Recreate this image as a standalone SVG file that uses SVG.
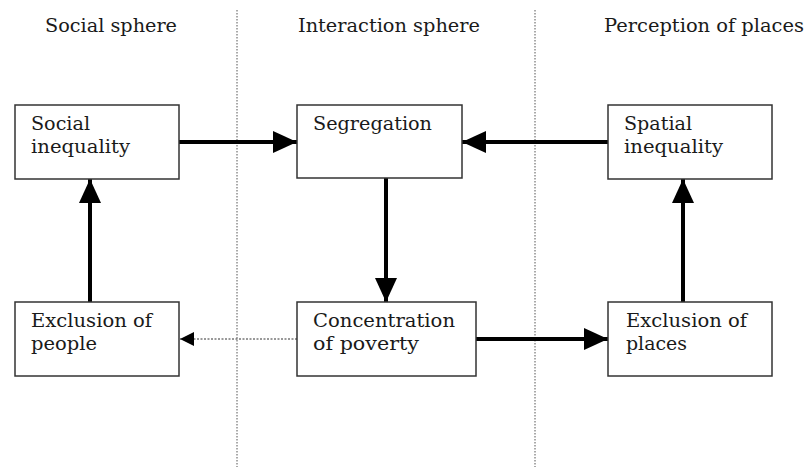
<svg xmlns="http://www.w3.org/2000/svg" width="806" height="467" viewBox="0 0 806 467">
<style>
.box{fill:#fff;stroke:#333;stroke-width:1.5}
.t{font-family:"DejaVu Serif","Liberation Serif",serif;font-size:19px;fill:#1a1a1a}
.h{font-family:"DejaVu Serif","Liberation Serif",serif;font-size:19px;fill:#1a1a1a;text-anchor:middle}
.sep{stroke:#555;stroke-width:1;stroke-dasharray:1.5 1.5}
.thick{stroke:#000;stroke-width:4;fill:none}
.thin{stroke:#333;stroke-width:1;stroke-dasharray:2 1.5;fill:none}
</style>
<defs>
<marker id="ah" markerUnits="userSpaceOnUse" markerWidth="24" markerHeight="22" refX="24" refY="11" orient="auto">
<path d="M0,0 L24,11 L0,22 Z" fill="#000"/>
</marker>
<marker id="ahs" markerUnits="userSpaceOnUse" markerWidth="14" markerHeight="14" refX="14" refY="7" orient="auto">
<path d="M0,0 L14,7 L0,14 Z" fill="#000"/>
</marker>
</defs>
<g id="separators">
<line class="sep" x1="237" y1="10" x2="237" y2="467"/>
<line class="sep" x1="535" y1="10" x2="535" y2="467"/>
</g>
<g id="headers">
<text class="h" x="111" y="32" textLength="132" lengthAdjust="spacingAndGlyphs">Social sphere</text>
<text class="h" x="389" y="32" textLength="182" lengthAdjust="spacingAndGlyphs">Interaction sphere</text>
<text class="h" x="704" y="32" textLength="200" lengthAdjust="spacingAndGlyphs">Perception of places</text>
</g>
<g id="connectors">
<line class="thick" x1="179" y1="142" x2="297" y2="142" marker-end="url(#ah)"/>
<line class="thick" x1="608" y1="142" x2="462" y2="142" marker-end="url(#ah)"/>
<line class="thick" x1="386" y1="178" x2="386" y2="302" marker-end="url(#ah)"/>
<line class="thick" x1="90" y1="302" x2="90" y2="179" marker-end="url(#ah)"/>
<line class="thick" x1="683" y1="302" x2="683" y2="179" marker-end="url(#ah)"/>
<line class="thick" x1="476" y1="339" x2="608" y2="339" marker-end="url(#ah)"/>
<line class="thin" x1="297" y1="339" x2="180" y2="339" marker-end="url(#ahs)"/>
</g>
<g id="social-inequality">
<rect class="box" x="15" y="105" width="164" height="74"/>
<text class="t" x="31" y="130" textLength="59" lengthAdjust="spacingAndGlyphs">Social</text>
<text class="t" x="31" y="153" textLength="99" lengthAdjust="spacingAndGlyphs">inequality</text>
</g>
<g id="segregation">
<rect class="box" x="297" y="105" width="165" height="73"/>
<text class="t" x="313" y="130" textLength="119" lengthAdjust="spacingAndGlyphs">Segregation</text>
</g>
<g id="spatial-inequality">
<rect class="box" x="608" y="105" width="164" height="74"/>
<text class="t" x="624" y="130" textLength="68" lengthAdjust="spacingAndGlyphs">Spatial</text>
<text class="t" x="624" y="153" textLength="99" lengthAdjust="spacingAndGlyphs">inequality</text>
</g>
<g id="exclusion-of-people">
<rect class="box" x="15" y="302" width="164" height="74"/>
<text class="t" x="31" y="327" textLength="121" lengthAdjust="spacingAndGlyphs">Exclusion of</text>
<text class="t" x="31" y="350" textLength="66" lengthAdjust="spacingAndGlyphs">people</text>
</g>
<g id="concentration-of-poverty">
<rect class="box" x="297" y="302" width="179" height="74"/>
<text class="t" x="313" y="327" textLength="142" lengthAdjust="spacingAndGlyphs">Concentration</text>
<text class="t" x="313" y="350" textLength="106" lengthAdjust="spacingAndGlyphs">of poverty</text>
</g>
<g id="exclusion-of-places">
<rect class="box" x="608" y="302" width="164" height="74"/>
<text class="t" x="626" y="327" textLength="121" lengthAdjust="spacingAndGlyphs">Exclusion of</text>
<text class="t" x="626" y="350" textLength="61" lengthAdjust="spacingAndGlyphs">places</text>
</g>
</svg>
